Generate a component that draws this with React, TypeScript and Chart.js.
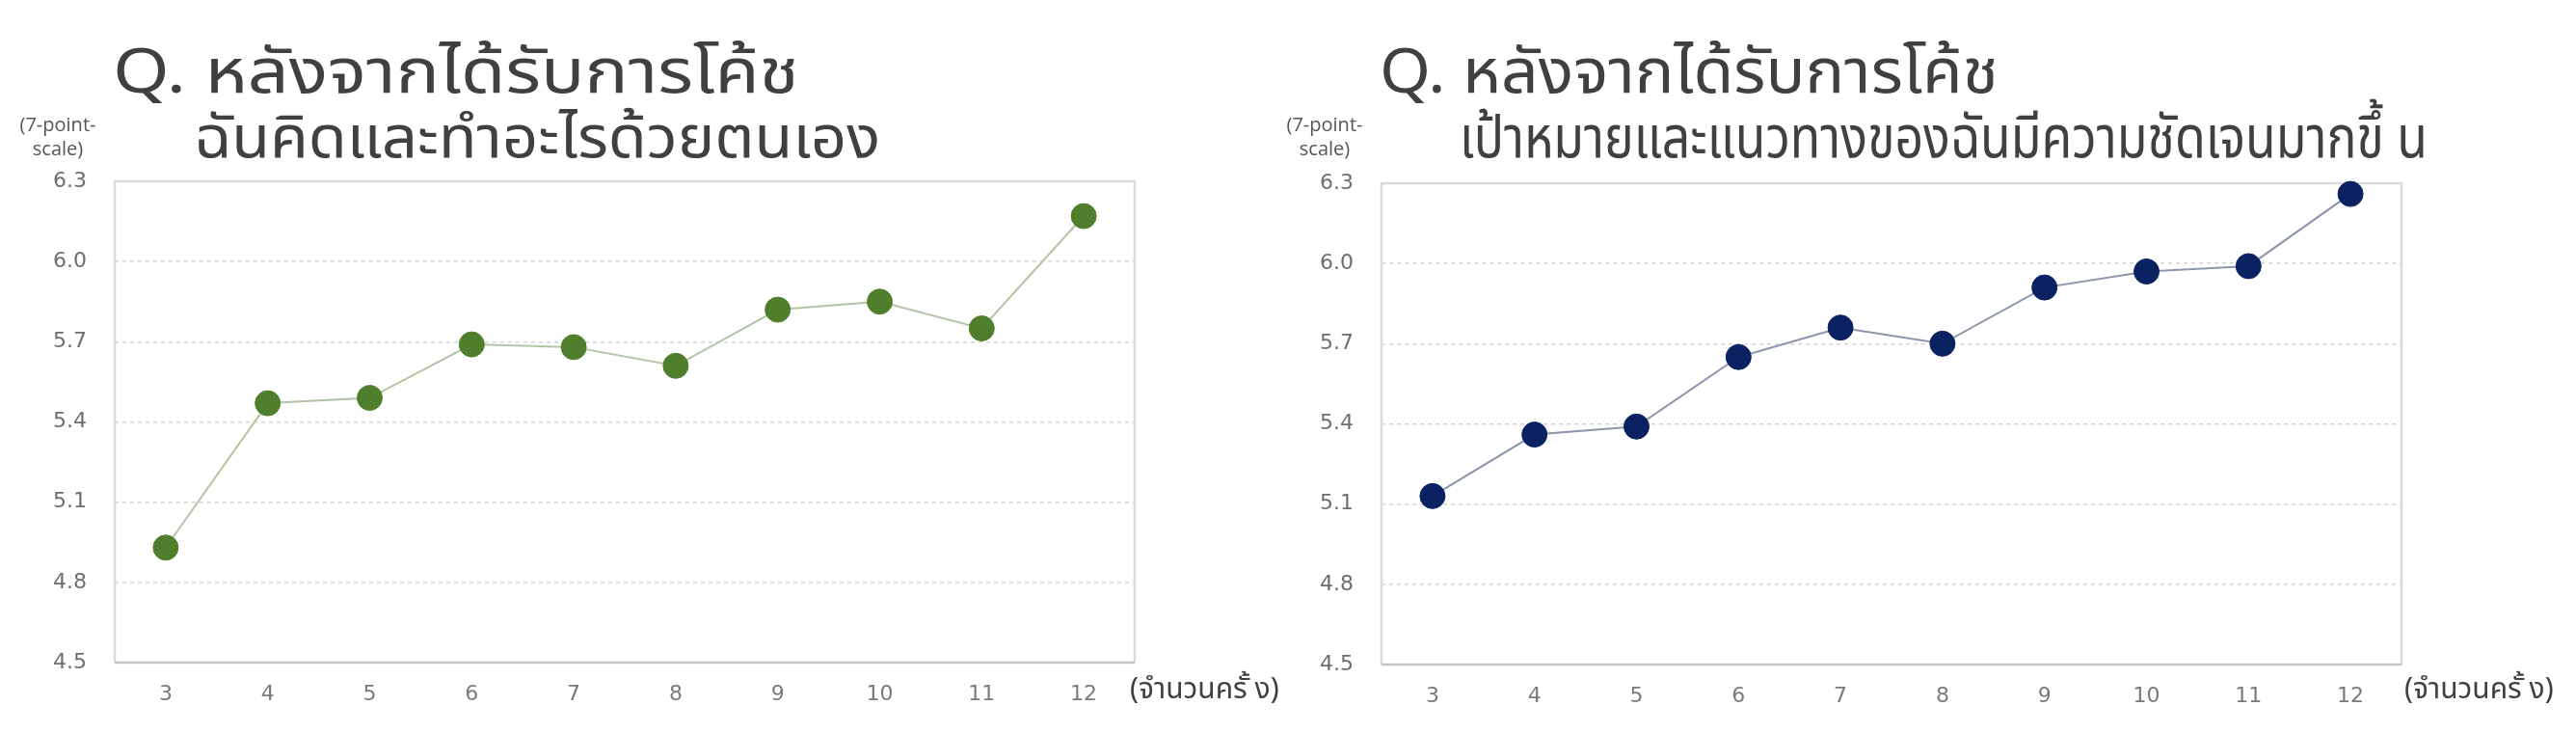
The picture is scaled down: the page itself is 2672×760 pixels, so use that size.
import React, { useEffect, useLayoutEffect, useRef } from "react";
import { Chart, registerables } from "chart.js";

Chart.register(...registerables);

// ---- data ----
const sessions = ["3", "4", "5", "6", "7", "8", "9", "10", "11", "12"];
const selfActionScores = [4.93, 5.47, 5.49, 5.69, 5.68, 5.61, 5.82, 5.85, 5.75, 6.17];
const goalClarityScores = [5.13, 5.36, 5.39, 5.65, 5.76, 5.7, 5.91, 5.97, 5.99, 6.26];
const yTickValues = [4.5, 4.8, 5.1, 5.4, 5.7, 6.0, 6.3];
const titleLine1 = "Q. หลังจากได้รับการโค้ช";
const leftSubtitle = "ฉันคิดและทำอะไรด้วยตนเอง";
const rightSubtitle = "เป้าหมายและแนวทางของฉันมีความชัดเจนมากขึ้ น";
const yUnitLines = ["(7-point-", "scale)"];
const xUnit = "(จำนวนครั้ ง)";

const THAI_FONT =
  "'Noto Sans Thai', 'Noto Sans Thai Looped', 'Leelawadee UI', Tahoma, 'Noto Sans', 'DejaVu Sans', sans-serif";

const framePlugin = {
  id: "frame",
  beforeDatasetsDraw(chart: any) {
    const { ctx, chartArea } = chart;
    const { left, top, right, bottom } = chartArea;
    ctx.save();
    ctx.lineWidth = 2.5;
    ctx.strokeStyle = "#dadada";
    ctx.beginPath();
    ctx.moveTo(left, bottom);
    ctx.lineTo(left, top);
    ctx.lineTo(right, top);
    ctx.lineTo(right, bottom);
    ctx.stroke();
    ctx.strokeStyle = "#c4c4c4";
    ctx.beginPath();
    ctx.moveTo(left, bottom);
    ctx.lineTo(right, bottom);
    ctx.stroke();
    ctx.restore();
  },
};

type FitTextProps = {
  text: string;
  left: number;
  top: number;
  width: number;
  fontSize: number;
  lineHeight: number;
  color: string;
};

function FitText({ text, left, top, width, fontSize, lineHeight, color }: FitTextProps) {
  const ref = useRef<HTMLDivElement | null>(null);
  useLayoutEffect(() => {
    const el = ref.current;
    if (!el) return;
    const fit = () => {
      el.style.transform = "none";
      const natural = el.getBoundingClientRect().width;
      if (natural > 0) el.style.transform = `scaleX(${width / natural})`;
    };
    fit();
    if ((document as any).fonts && (document as any).fonts.ready) {
      (document as any).fonts.ready.then(fit);
    }
  }, [text, width, fontSize]);
  return (
    <div
      ref={ref}
      style={{
        position: "absolute",
        left,
        top,
        fontFamily: THAI_FONT,
        fontSize,
        lineHeight: `${lineHeight}px`,
        color,
        whiteSpace: "nowrap",
        transformOrigin: "0 0",
        display: "inline-block",
      }}
    >
      {text}
    </div>
  );
}

type PanelProps = {
  x: number;
  chartDy: number;
  subtitle: string;
  values: number[];
  markerColor: string;
  lineColor: string;
  line1Width: number;
  line2Left: number;
  line2Width: number;
  xUnitLeft: number;
};

const PANEL_W = 1358;
const PANEL_H = 760;

function Panel({
  x,
  chartDy,
  subtitle,
  values,
  markerColor,
  lineColor,
  line1Width,
  line2Left,
  line2Width,
  xUnitLeft,
}: PanelProps) {
  const ref = useRef<HTMLCanvasElement | null>(null);

  useEffect(() => {
    if (!ref.current) return;
    const chart = new Chart(ref.current, {
      type: "line",
      data: {
        labels: sessions,
        datasets: [
          {
            data: values,
            borderColor: lineColor,
            borderWidth: 2,
            pointRadius: 13,
            pointHoverRadius: 13,
            pointBackgroundColor: markerColor,
            pointBorderColor: markerColor,
            pointBorderWidth: 1,
            tension: 0,
            fill: false,
            clip: false as any,
          },
        ],
      },
      options: {
        animation: false,
        responsive: false,
        devicePixelRatio: 1,
        layout: { padding: { top: 188 + chartDy, right: PANEL_W - 1177, bottom: 0, left: 0 } },
        plugins: { legend: { display: false }, tooltip: { enabled: false }, title: { display: false } },
        scales: {
          x: {
            type: "category",
            offset: true,
            grid: { display: false, drawTicks: false },
            border: { display: false },
            ticks: {
              color: "#7a7a7a",
              font: { family: "'DejaVu Sans', sans-serif", size: 22 },
              padding: 20,
              maxRotation: 0,
              autoSkip: false,
            },
            afterFit: (s: any) => {
              s.height = 73 - chartDy;
            },
          },
          y: {
            type: "linear",
            min: 4.5,
            max: 6.3,
            afterBuildTicks: (s: any) => {
              s.ticks = yTickValues.map((v) => ({ value: v }));
            },
            grid: {
              drawTicks: false,
              lineWidth: 1.5,
              color: (c: any) =>
                c.tick && (c.tick.value === 4.5 || c.tick.value === 6.3) ? "rgba(0,0,0,0)" : "#d4d4d4",
            },
            border: { display: false, dash: [4, 4] },
            ticks: {
              color: "#6e6e6e",
              font: { family: "'DejaVu Sans', sans-serif", size: 22 },
              padding: 29,
              callback: (v: any) => Number(v).toFixed(1),
            },
            afterFit: (s: any) => {
              s.width = 119;
            },
          },
        },
      },
      plugins: [framePlugin],
    });
    return () => chart.destroy();
  }, [values, markerColor, lineColor, chartDy]);

  return (
    <div style={{ position: "absolute", left: x, top: 0, width: PANEL_W, height: PANEL_H }}>
      <canvas
        ref={ref}
        width={PANEL_W}
        height={PANEL_H}
        style={{ position: "absolute", left: 0, top: 0, width: PANEL_W, height: PANEL_H }}
      />
      <FitText text={titleLine1} left={117} top={42} width={line1Width} fontSize={64} lineHeight={70} color="#404040" />
      <FitText text={subtitle} left={line2Left} top={110} width={line2Width} fontSize={60} lineHeight={70} color="#404040" />
      <div
        style={{
          position: "absolute",
          left: 0,
          top: 116,
          width: 120,
          textAlign: "center",
          fontFamily: "'Open Sans', 'Noto Sans', sans-serif",
          fontSize: 20,
          lineHeight: "25px",
          color: "#555555",
        }}
      >
        {yUnitLines.map((l, i) => (
          <div key={i}>{l}</div>
        ))}
      </div>
      <div
        style={{
          position: "absolute",
          left: xUnitLeft,
          top: 694,
          fontFamily: THAI_FONT,
          fontSize: 30,
          lineHeight: "42px",
          color: "#404040",
          whiteSpace: "nowrap",
        }}
      >
        {xUnit}
      </div>
    </div>
  );
}

export default function App() {
  return (
    <div
      style={{
        position: "absolute",
        left: 0,
        top: 0,
        width: 2672,
        height: 760,
        background: "#ffffff",
        overflow: "hidden",
      }}
    >
      <Panel
        x={0}
        chartDy={0}
        subtitle={leftSubtitle}
        values={selfActionScores}
        markerColor="#4f7f2c"
        lineColor="#b3c4a6"
        line1Width={712}
        line2Left={201}
        line2Width={712}
        xUnitLeft={1172}
      />
      <Panel
        x={1314}
        chartDy={2}
        subtitle={rightSubtitle}
        values={goalClarityScores}
        markerColor="#0a2262"
        lineColor="#8d95ad"
        line1Width={642}
        line2Left={200}
        line2Width={1004}
        xUnitLeft={1180}
      />
    </div>
  );
}
